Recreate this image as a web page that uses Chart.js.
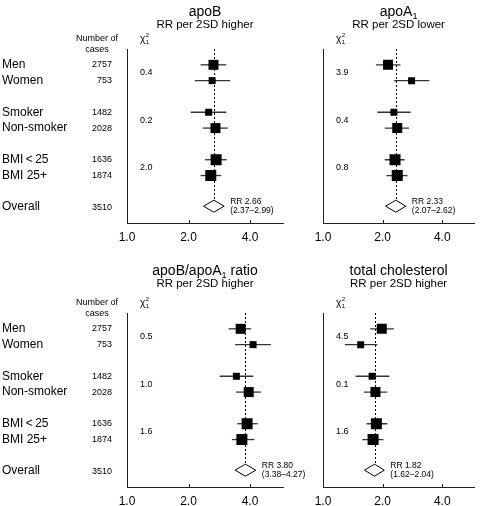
<!DOCTYPE html>
<html>
<head>
<meta charset="utf-8">
<script src="https://cdn.jsdelivr.net/npm/chart.js@4/dist/chart.umd.min.js"></script>
<style>
html, body { margin: 0; padding: 0; background: #fff; }
#wrap { position: relative; width: 482px; height: 506px; overflow: hidden; }
canvas { position: absolute; }
</style>
</head>
<body>
<div id="wrap">
  <canvas id="c1"></canvas>
  <canvas id="c2"></canvas>
  <canvas id="c3"></canvas>
  <canvas id="c4"></canvas>
</div>
<script>
// rows of the forest plots
const groups = ['Men', 'Women', 'Smoker', 'Non-smoker', 'BMI\u2009<\u200925', 'BMI 25+', 'Overall']
const cases = [2757, 753, 1482, 2028, 1636, 1874, 3510]
const rowPos = [1, 2, 4, 5, 7, 8, 10]
const xTicks = [1, 2, 4]

// apoB
const apoB_est = [2.65, 2.61, 2.51, 2.71, 2.73, 2.57]
const apoB_lo = [2.29, 2.15, 2.05, 2.35, 2.41, 2.29]
const apoB_hi = [3.06, 3.20, 3.06, 3.11, 3.08, 2.89]
const apoB_overall = [2.66, 2.37, 2.99]
const apoB_chi = ['0.4', '0.2', '2.0']

// apoA1
const apoA1_est = [2.13, 2.80, 2.28, 2.37, 2.31, 2.37]
const apoA1_lo = [1.85, 2.28, 1.88, 2.05, 2.05, 2.09]
const apoA1_hi = [2.46, 3.44, 2.77, 2.72, 2.58, 2.67]
const apoA1_overall = [2.33, 2.07, 2.62]
const apoA1_chi = ['3.9', '0.4', '0.8']

// apoB/apoA1 ratio
const ratio_est = [3.60, 4.14, 3.43, 3.94, 3.87, 3.65]
const ratio_lo = [3.14, 3.38, 2.84, 3.42, 3.46, 3.26]
const ratio_hi = [4.05, 5.06, 4.15, 4.52, 4.36, 4.20]
const ratio_overall = [3.80, 3.38, 4.27]
const ratio_chi = ['0.5', '1.0', '1.6']

// total cholesterol
const tc_est = [1.98, 1.55, 1.77, 1.84, 1.86, 1.79]
const tc_lo = [1.73, 1.29, 1.46, 1.61, 1.66, 1.58]
const tc_hi = [2.28, 1.88, 2.16, 2.11, 2.11, 2.02]
const tc_overall = [1.82, 1.62, 2.04]
const tc_chi = ['4.5', '0.1', '1.6']

// marker side (px) for each subgroup square
const markerSide = [10, 7, 7, 10, 11, 11]

const FONT = "'Liberation Sans', Arial, Helvetica, sans-serif"

// left canvases are wider than their half so the RR text can run past the axis end
const panels = [
    { id: 'c1', left: 0, top: 0, w: 330, h: 253, padL: 127, padR: 47, padT: 49, axisH: 30, titleY: 12,
      title: [['apoB', 0]], sub: 'RR per 2SD higher', labels: true,
      est: apoB_est, lo: apoB_lo, hi: apoB_hi, overall: apoB_overall, chi: apoB_chi },
    { id: 'c2', left: 292, top: 0, w: 190, h: 253, padL: 31, padR: 2, padT: 49, axisH: 30, titleY: 12,
      title: [['apoA', 0], ['1', 1]], sub: 'RR per 2SD lower', labels: false,
      est: apoA1_est, lo: apoA1_lo, hi: apoA1_hi, overall: apoA1_overall, chi: apoA1_chi },
    { id: 'c3', left: 0, top: 253, w: 330, h: 253, padL: 127, padR: 47, padT: 60, axisH: 19, titleY: 18,
      title: [['apoB/apoA', 0], ['1', 1], [' ratio', 0]], sub: 'RR per 2SD higher', labels: true,
      est: ratio_est, lo: ratio_lo, hi: ratio_hi, overall: ratio_overall, chi: ratio_chi },
    { id: 'c4', left: 292, top: 253, w: 190, h: 253, padL: 31, padR: 2, padT: 60, axisH: 19, titleY: 18,
      title: [['total cholesterol', 0]], sub: 'RR per 2SD higher', labels: false,
      est: tc_est, lo: tc_lo, hi: tc_hi, overall: tc_overall, chi: tc_chi },
]

const drawParts = (ctx, parts, cx, y, size) => {
    let total = 0
    parts.forEach(([t, sub]) => {
        ctx.font = `${sub ? size * 0.65 : size}px ${FONT}`
        total += ctx.measureText(t).width
    })
    let x = cx - total / 2
    ctx.textAlign = 'left'
    parts.forEach(([t, sub]) => {
        ctx.font = `${sub ? size * 0.65 : size}px ${FONT}`
        ctx.fillText(t, x, sub ? y + size * 0.3 : y)
        x += ctx.measureText(t).width
    })
}

const drawChi = (ctx, x, y) => {
    ctx.textAlign = 'left'
    ctx.font = `10px ${FONT}`
    ctx.fillText('\u03c7', x, y)
    const w = ctx.measureText('\u03c7').width
    ctx.font = `6px ${FONT}`
    ctx.fillText('2', x + w + 0.5, y - 3.5)
    ctx.fillText('1', x + w + 0.5, y + 3)
}

const makePlugin = (p) => ({
    id: 'forest' + p.id,
    beforeDatasetsDraw(chart) {
        const { ctx, chartArea, scales: { x, y } } = chart
        const xo = Math.round(x.getPixelForValue(p.overall[0])) + 0.5
        const yEnd = y.getPixelForValue(rowPos[6]) - 7
        ctx.save()
        ctx.strokeStyle = '#000'
        ctx.lineWidth = 1
        ctx.setLineDash([2, 2])
        ctx.beginPath()
        ctx.moveTo(xo, chartArea.top)
        ctx.lineTo(xo, yEnd)
        ctx.stroke()
        ctx.restore()
    },
    afterDraw(chart) {
        const { ctx, chartArea, scales: { x, y } } = chart
        ctx.save()
        ctx.fillStyle = '#000'
        ctx.textBaseline = 'middle'

        // titles
        const cx = (chartArea.left + chartArea.right) / 2
        drawParts(ctx, p.title, cx, p.titleY, 14)
        ctx.font = `11.5px ${FONT}`
        ctx.textAlign = 'center'
        ctx.fillText(p.sub, cx, p.titleY + 13)

        // overall diamond
        const yc = y.getPixelForValue(rowPos[6]) - 1
        const xl = x.getPixelForValue(p.overall[1])
        const xm = x.getPixelForValue(p.overall[0])
        const xr = x.getPixelForValue(p.overall[2])
        ctx.beginPath()
        ctx.moveTo(xl, yc)
        ctx.lineTo(xm, yc - 6)
        ctx.lineTo(xr, yc)
        ctx.lineTo(xm, yc + 6)
        ctx.closePath()
        ctx.fillStyle = '#fff'
        ctx.fill()
        ctx.strokeStyle = '#000'
        ctx.lineWidth = 1
        ctx.stroke()

        ctx.fillStyle = '#000'
        ctx.font = `8.5px ${FONT}`
        ctx.textAlign = 'left'
        ctx.fillText('RR ' + p.overall[0].toFixed(2), xr + 6, yc - 5)
        ctx.fillText('(' + p.overall[1].toFixed(2) + '\u2013' + p.overall[2].toFixed(2) + ')', xr + 6, yc + 4)

        // tick marks inside the plot
        ctx.strokeStyle = '#222'
        ctx.beginPath()
        xTicks.slice(1).forEach(v => {
            const px = Math.round(x.getPixelForValue(v)) + 0.5
            ctx.moveTo(px, chartArea.bottom)
            ctx.lineTo(px, chartArea.bottom - 3)
        })
        ctx.stroke()

        // chi-square column
        drawChi(ctx, chartArea.left + 13, chartArea.top - 10)
        ctx.font = `9px ${FONT}`
        ctx.textAlign = 'left'
        p.chi.forEach((c, i) => {
            const yy = y.getPixelForValue((rowPos[i * 2] + rowPos[i * 2 + 1]) / 2)
            ctx.fillText(c, chartArea.left + 13, yy)
        })

        // group labels and case counts
        if (p.labels) {
            ctx.font = `9px ${FONT}`
            ctx.textAlign = 'center'
            ctx.fillText('Number of', chartArea.left - 30, chartArea.top - 10)
            ctx.fillText('cases', chartArea.left - 30, chartArea.top + 1)
            groups.forEach((g, i) => {
                const yy = y.getPixelForValue(rowPos[i])
                ctx.font = `12px ${FONT}`
                ctx.textAlign = 'left'
                ctx.fillText(g, 2, yy)
                ctx.font = `9px ${FONT}`
                ctx.textAlign = 'right'
                ctx.fillText(String(cases[i]), chartArea.left - 15, yy)
            })
        }
        ctx.restore()
    }
})

panels.forEach(p => {
    const canvas = document.getElementById(p.id)
    canvas.width = p.w
    canvas.height = p.h
    canvas.style.left = p.left + 'px'
    canvas.style.top = p.top + 'px'

    const datasets = [{
        data: p.est.map((v, i) => ({ x: v, y: rowPos[i] })),
        pointStyle: 'rect',
        pointRadius: markerSide.map(s => s / Math.SQRT2),
        backgroundColor: '#000',
        borderWidth: 0,
    }]
    p.est.forEach((v, i) => {
        datasets.push({
            data: [{ x: p.lo[i], y: rowPos[i] }, { x: p.hi[i], y: rowPos[i] }],
            showLine: true,
            borderColor: '#333',
            borderWidth: 1.3,
            pointRadius: 0,
        })
    })

    new Chart(canvas, {
        type: 'scatter',
        data: { datasets },
        options: {
            responsive: false,
            animation: false,
            events: [],
            layout: { padding: { left: p.padL, right: p.padR, top: p.padT, bottom: 0 } },
            plugins: { legend: { display: false }, tooltip: { enabled: false } },
            scales: {
                x: {
                    type: 'logarithmic',
                    min: 1,
                    max: 5.8,
                    afterBuildTicks: (scale) => { scale.ticks = xTicks.map(v => ({ value: v })) },
                    afterFit: (scale) => { scale.height = p.axisH },
                    grid: { display: false, drawTicks: false },
                    border: { display: true, color: '#222', width: 1 },
                    ticks: {
                        callback: (v) => Number(v).toFixed(1),
                        color: '#000',
                        padding: 7,
                        maxRotation: 0,
                        autoSkip: false,
                        font: { family: FONT, size: 12 },
                    },
                },
                y: {
                    type: 'linear',
                    min: 0,
                    max: 11,
                    reverse: true,
                    afterFit: (scale) => { scale.width = 0 },
                    grid: { display: false, drawTicks: false },
                    border: { display: true, color: '#222', width: 1 },
                    ticks: { display: false },
                },
            },
        },
        plugins: [makePlugin(p)],
    })
})
</script>
</body>
</html>
